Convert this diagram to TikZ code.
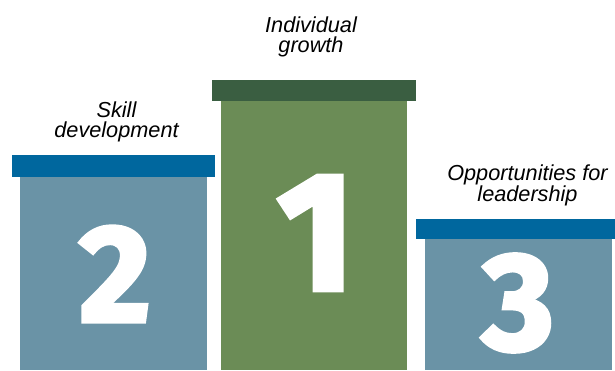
\documentclass[tikz,border=0pt]{standalone}
\usepackage{fontspec}
\setmainfont{Liberation Sans}
\newfontfamily\numfont{Fira Sans}[BoldFeatures={FakeBold=3}]
\definecolor{capblue}{HTML}{00679E}
\definecolor{bodyslate}{HTML}{6A93A6}
\definecolor{capgreen}{HTML}{3A5E41}
\definecolor{bodygreen}{HTML}{6B8C56}
\tikzset{
  block/.style={rectangle, inner sep=0pt, outer sep=0pt, draw=none},
  digit/.style={inner sep=0pt, outer sep=0pt, text=white},
  label/.style={inner sep=0pt, align=center, anchor=base,
    font=\itshape\fontsize{21.7}{20}\selectfont}
}
\begin{document}
\begin{tikzpicture}[x=1pt,y=-1pt]
\useasboundingbox (0,0) rectangle (615,370);
% podium 2
\node[block, fill=bodyslate, minimum width=187pt, minimum height=193pt] (body2) at (113.5,273.5) {};
\node[block, fill=capblue, minimum width=203pt, minimum height=22pt] (cap2) at (113.5,166) {};
% podium 1
\node[block, fill=bodygreen, minimum width=186pt, minimum height=269pt] (body1) at (314,235.5) {};
\node[block, fill=capgreen, minimum width=204pt, minimum height=21pt] (cap1) at (314,90.5) {};
% podium 3
\node[block, fill=bodyslate, minimum width=187pt, minimum height=131pt] (body3) at (518.5,304.5) {};
\node[block, fill=capblue, minimum width=199pt, minimum height=20pt] (cap3) at (515.5,229) {};
% digits
\node[digit, font=\numfont\bfseries\fontsize{138}{138}\selectfont] (d2) at (115,274) {2};
\node[digit, font=\numfont\bfseries\fontsize{168}{168}\selectfont] (d1) at (316,233) {1};
\node[digit, font=\numfont\bfseries\fontsize{138}{138}\selectfont] (d3) at (518,303) {3};
% labels
\node[label] (l1) at (311,52.5) {Individual\\growth};
\node[label] (l2) at (116.5,137) {Skill\\development};
\node[label] (l3) at (527.5,201.7) {Opportunities for\\leadership};
\end{tikzpicture}
\end{document}
